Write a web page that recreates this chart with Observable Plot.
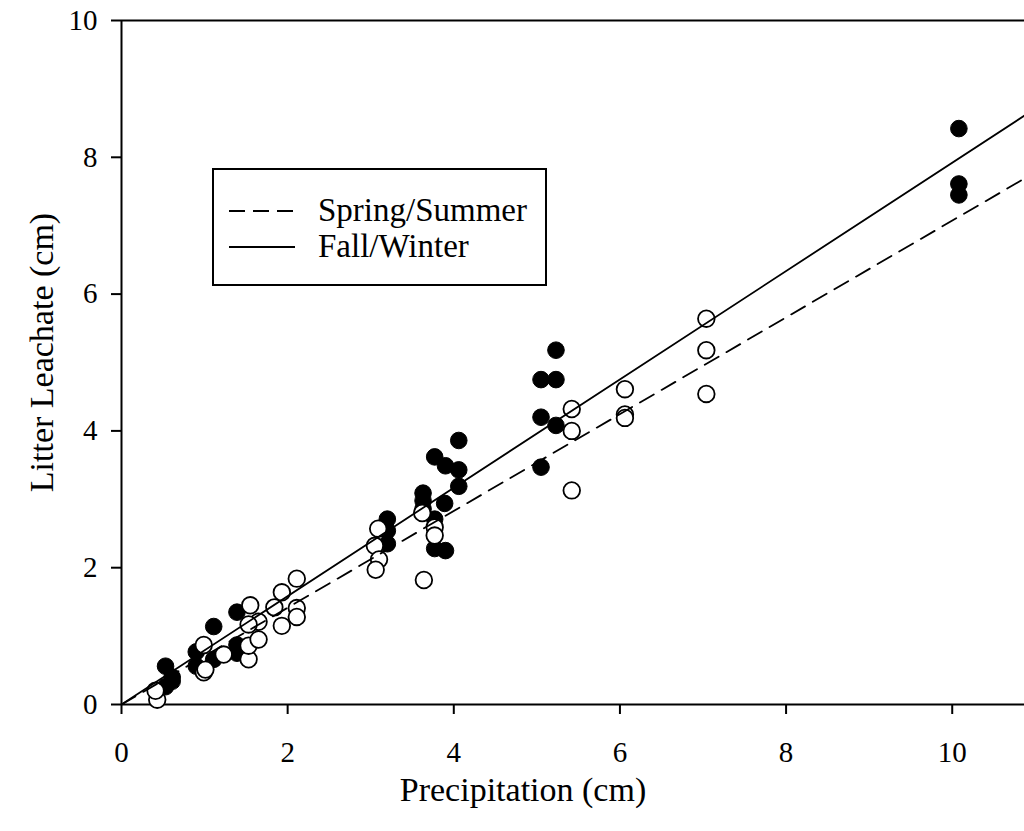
<!DOCTYPE html>
<html>
<head>
<meta charset="utf-8">
<script src="https://cdn.jsdelivr.net/npm/d3@7"></script>
<script src="https://cdn.jsdelivr.net/npm/@observablehq/plot@0.6"></script>
<style>
  body { margin: 0; background: #fff; }
  #wrap { position: relative; width: 1024px; height: 831px; overflow: hidden; }
  #legend { position: absolute; left: 212px; top: 168px; }
</style>
</head>
<body>
<div id="wrap"></div>
<script>
// Spring/Summer observations (open circles): [precipitation, leachate]
const springX = [0.43,0.41,0.99,0.99,1.01,1.23,1.53,1.53,1.65,1.65,1.55,1.53,1.84,1.93,1.93,2.11,2.11,2.11,3.09,3.05,3.10,3.06,3.64,3.62,3.77,3.77,5.42,5.42,5.42,6.06,6.06,6.06,7.04,7.04,7.04];
const springY = [0.07,0.20,0.87,0.47,0.51,0.73,0.66,0.86,0.95,1.21,1.45,1.17,1.42,1.64,1.15,1.84,1.41,1.28,2.57,2.32,2.12,1.97,1.82,2.80,2.59,2.47,4.32,4.00,3.13,4.61,4.24,4.19,5.64,5.18,4.54];
// Fall/Winter observations (filled circles)
const fallX = [0.53,0.53,0.61,0.61,0.90,0.90,1.11,1.11,1.39,1.39,1.39,3.20,3.20,3.20,3.63,3.63,3.63,3.77,3.90,4.06,4.06,4.06,3.89,3.77,3.77,3.90,5.05,5.23,5.23,5.05,5.23,5.05,10.08,10.08,10.08];
const fallY = [0.56,0.26,0.40,0.34,0.77,0.56,1.14,0.66,1.35,0.87,0.75,2.71,2.54,2.35,3.09,2.98,2.86,3.62,3.49,3.86,3.43,3.19,2.94,2.71,2.28,2.25,4.75,5.18,4.75,4.20,4.08,3.47,8.42,7.61,7.45];
// Regression line endpoints
const springLineX = [0, 10.87];
const springLineY = [0, 7.69];
const fallLineX = [0, 10.87];
const fallLineY = [0, 8.61];
// Ticks
const xTicks = [0, 2, 4, 6, 8, 10];
const yTicks = [0, 2, 4, 6, 8, 10];
const seriesNames = ["Spring/Summer", "Fall/Winter"];

const spring = springX.map((x, i) => ({x, y: springY[i]}));
const fall = fallX.map((x, i) => ({x, y: fallY[i]}));
const springLine = springLineX.map((x, i) => ({x, y: springLineY[i]}));
const fallLine = fallLineX.map((x, i) => ({x, y: fallLineY[i]}));

const serif = "'Liberation Serif', 'Times New Roman', serif";

const chart = Plot.plot({
  width: 1024,
  height: 831,
  marginLeft: 121,
  marginRight: 0,
  marginTop: 20,
  marginBottom: 127,
  style: { fontFamily: serif, fontSize: "29px", background: "#fff", color: "#000" },
  x: { domain: [0, 10.87] },
  y: { domain: [0, 10] },
  marks: [
    Plot.axisX({ ticks: xTicks, tickSize: 10, tickPadding: 27, tickFormat: d => String(d), label: null, fontSize: 29, strokeWidth: 2 }),
    Plot.axisY({ ticks: yTicks, tickSize: 10, tickPadding: 14, tickFormat: d => String(d), label: null, fontSize: 29, strokeWidth: 2 }),
    Plot.ruleY([0], { stroke: "#000", strokeWidth: 2 }),
    Plot.ruleY([10], { stroke: "#000", strokeWidth: 2 }),
    Plot.ruleX([0], { stroke: "#000", strokeWidth: 2 }),
    Plot.dot(fall, { x: "x", y: "y", r: 8.3, fill: "#000", stroke: "#000", strokeWidth: 1 }),
    Plot.dot(spring, { x: "x", y: "y", r: 8.3, fill: "#fff", stroke: "#000", strokeWidth: 1.8 }),
    Plot.line(springLine, { x: "x", y: "y", stroke: "#000", strokeWidth: 1.8, strokeDasharray: "16,9" }),
    Plot.line(fallLine, { x: "x", y: "y", stroke: "#000", strokeWidth: 1.8 }),
    Plot.text(["Precipitation (cm)"], { frameAnchor: "bottom", lineAnchor: "middle", textAnchor: "middle", dy: 86, dx: -50, fontSize: 34, fill: "#000" }),
    Plot.text(["Litter Leachate (cm)"], { frameAnchor: "left", lineAnchor: "middle", textAnchor: "middle", dx: -79, dy: -10, rotate: -90, fontSize: 34, fill: "#000" })
  ]
});

const wrap = document.getElementById("wrap");
wrap.appendChild(chart);

// Legend overlay
const ns = "http://www.w3.org/2000/svg";
const leg = document.createElementNS(ns, "svg");
leg.setAttribute("id", "legend");
leg.setAttribute("width", 336);
leg.setAttribute("height", 119);
leg.innerHTML = `
  <rect x="1" y="1" width="333" height="116" fill="#fff" stroke="#000" stroke-width="2"/>
  <line x1="17" x2="83" y1="43" y2="43" stroke="#000" stroke-width="1.8" stroke-dasharray="16,8"/>
  <line x1="17" x2="83" y1="79" y2="79" stroke="#000" stroke-width="1.8"/>
  <text x="106" y="53" font-family="${serif}" font-size="33" fill="#000">${seriesNames[0]}</text>
  <text x="106" y="89" font-family="${serif}" font-size="33" fill="#000">${seriesNames[1]}</text>
`;
wrap.appendChild(leg);
</script>
</body>
</html>
